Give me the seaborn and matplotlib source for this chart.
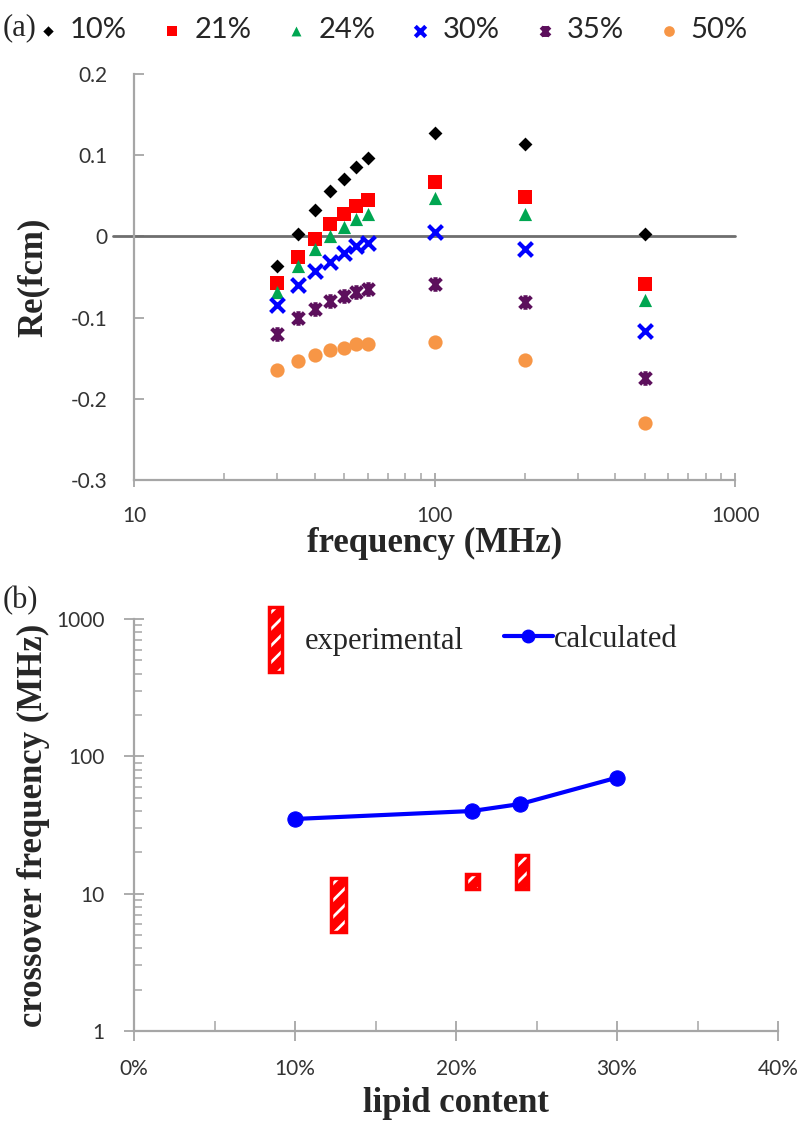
import numpy as np
import matplotlib
matplotlib.use("Agg")
import matplotlib.pyplot as plt
import seaborn as sns
from matplotlib.path import Path
from matplotlib.patches import Patch
from matplotlib.lines import Line2D
from matplotlib.legend_handler import HandlerTuple
from matplotlib.ticker import FuncFormatter, PercentFormatter, MultipleLocator, LogLocator

# ---- panel (a): Re(fcm) vs frequency ----
freq = [30, 35, 40, 45, 50, 55, 60, 100, 200, 500]
re_10 = [-0.037, 0.003, 0.033, 0.056, 0.071, 0.085, 0.096, 0.127, 0.114, 0.003]
re_21 = [-0.058, -0.026, -0.003, 0.015, 0.028, 0.037, 0.045, 0.067, 0.048, -0.059]
re_24 = [-0.068, -0.037, -0.015, 0.001, 0.012, 0.022, 0.028, 0.047, 0.027, -0.078]
re_30 = [-0.084, -0.060, -0.043, -0.031, -0.021, -0.012, -0.008, 0.006, -0.016, -0.117]
re_35 = [-0.120, -0.101, -0.089, -0.079, -0.073, -0.069, -0.065, -0.059, -0.081, -0.174]
re_50 = [-0.164, -0.153, -0.146, -0.140, -0.137, -0.133, -0.132, -0.130, -0.152, -0.230]
series_labels = ["10%", "21%", "24%", "30%", "35%", "50%"]

# ---- panel (b): crossover frequency vs lipid content ----
lipid_calc = [0.10, 0.21, 0.24, 0.30]
fc_calc = [35, 40, 45, 70]
lipid_exp = [0.127, 0.21, 0.241]
exp_low = [5.3, 10.8, 10.8]
exp_high = [13.0, 14.0, 19.0]

sns.set_theme(style="white")
plt.rcParams["font.family"] = ["Lato", "DejaVu Sans"]
plt.rcParams["axes.unicode_minus"] = False
plt.rcParams["hatch.linewidth"] = 2.0

gray = "#a6a6a6"
tick_txt = "#333333"
serif = "Liberation Serif"

# excel-like star: an x with a vertical stroke
star = Path([(-1, -1), (1, 1), (-1, 1), (1, -1), (0, -1.25), (0, 1.25)],
            [Path.MOVETO, Path.LINETO, Path.MOVETO, Path.LINETO, Path.MOVETO, Path.LINETO])

styles = [
    ("D", "black", 50, 0),
    ("s", "#ff0000", 100, 0),
    ("^", "#00a651", 90, 0),
    ("x", "#0000ff", 100, 3),
    (star, "#5c0f5c", 110, 3),
    ("o", "#f79646", 105, 0),
]
values = [re_10, re_21, re_24, re_30, re_35, re_50]

fig = plt.figure(figsize=(8, 11.28), dpi=100)
ax1 = fig.add_axes([0.1675, 0.5745, 0.7513, 0.3599])
ax2 = fig.add_axes([0.1675, 0.0860, 0.805, 0.3652])

for vals, lab, (mk, col, size, lw) in zip(values, series_labels, styles):
    sns.scatterplot(x=freq, y=vals, marker=mk, color=col, s=size, linewidth=lw,
                    edgecolor=col, label=lab, legend=False, ax=ax1, zorder=3)

ax1.set_xscale("log")
ax1.set_xlim(10, 1000)
ax1.set_ylim(-0.3, 0.2)
ax1.set_yticks(np.arange(-0.3, 0.21, 0.1))
ax1.yaxis.set_major_formatter(FuncFormatter(lambda v, _: "0" if abs(v) < 1e-9 else f"{v:.1f}"))
ax1.xaxis.set_major_formatter(FuncFormatter(lambda v, _: f"{v:g}"))
ax1.xaxis.set_minor_locator(LogLocator(base=10, subs=np.arange(2, 10)))
ax1.xaxis.set_minor_formatter(FuncFormatter(lambda v, _: ""))
ax1.axhline(0, xmin=-0.035, xmax=1.0, color="#6e6e6e", lw=2, clip_on=False, zorder=1)

ax1.set_ylabel("Re(fcm)", fontfamily=serif, fontweight="bold", fontsize=25)
ax1.yaxis.set_label_coords(-0.14, 0.5)
ax1.set_xlabel("frequency (MHz)", fontfamily=serif, fontweight="bold", fontsize=25)
ax1.xaxis.set_label_coords(0.5, -0.115)

# legend for (a)
h, l = ax1.get_legend_handles_labels()
fig.legend(h, l, loc="center left", bbox_to_anchor=(0.042, 0.973), ncol=6, frameon=False,
           fontsize=21, handletextpad=0.25, columnspacing=1.05, markerscale=0.75,
           handlelength=1.0, borderaxespad=0, borderpad=0)
fig.text(0.003, 0.975, "(a)", fontfamily=serif, fontsize=22, va="center")

# ---- panel (b) ----
widths = [0.009, 0.008, 0.007]
heights = [hi - lo for hi, lo in zip(exp_high, exp_low)]
ax2.bar(lipid_exp, heights, bottom=exp_low, width=widths, color="#ff0000",
        edgecolor="white", hatch="//", linewidth=0, zorder=2)
ax2.bar(lipid_exp, heights, bottom=exp_low, width=widths, fill=False,
        edgecolor="#ff0000", linewidth=2.5, zorder=3)
sns.lineplot(x=lipid_calc, y=fc_calc, color="#0000ff", lw=3, marker="o", markersize=11,
             markeredgecolor="#0000ff", legend=False, ax=ax2, zorder=4)

ax2.set_yscale("log")
ax2.set_ylim(1, 1000)
ax2.set_xlim(0, 0.4)
ax2.xaxis.set_major_locator(MultipleLocator(0.1))
ax2.xaxis.set_minor_locator(MultipleLocator(0.05))
ax2.xaxis.set_major_formatter(PercentFormatter(xmax=1, decimals=0))
ax2.yaxis.set_major_formatter(FuncFormatter(lambda v, _: f"{v:g}"))
ax2.yaxis.set_minor_locator(LogLocator(base=10, subs=np.arange(2, 10)))
ax2.yaxis.set_minor_formatter(FuncFormatter(lambda v, _: ""))

ax2.set_ylabel("crossover frequency (MHz)", fontfamily=serif, fontweight="bold", fontsize=25)
ax2.yaxis.set_label_coords(-0.13, 0.5)
ax2.set_xlabel("lipid content", fontfamily=serif, fontweight="bold", fontsize=25)
ax2.xaxis.set_label_coords(0.5, -0.135)

exp_handle = (Patch(facecolor="#ff0000", edgecolor="white", hatch="//", linewidth=0),
              Patch(fill=False, edgecolor="#ff0000", linewidth=2.5))
leg1 = ax2.legend([exp_handle], ["experimental"], handler_map={tuple: HandlerTuple(ndivide=1)},
                  loc="center left", bbox_to_anchor=(0.19, 0.95), frameon=False,
                  prop={"family": serif, "size": 22}, handlelength=0.45, handleheight=2.9,
                  handletextpad=0.75, borderaxespad=0)
ax2.add_artist(leg1)
calc_handle = Line2D([], [], color="#0000ff", lw=3, marker="o", markersize=9)
ax2.legend([calc_handle], ["calculated"], loc="center left", bbox_to_anchor=(0.555, 0.95),
           frameon=False, prop={"family": serif, "size": 22}, handlelength=1.6,
           handletextpad=0.05, borderaxespad=0)
fig.text(0.003, 0.468, "(b)", fontfamily=serif, fontsize=22, va="center")

for ax in (ax1, ax2):
    sns.despine(ax=ax)
    for side in ("left", "bottom"):
        ax.spines[side].set_color(gray)
        ax.spines[side].set_linewidth(1.6)
    ax.grid(False)

ax1.tick_params(axis="y", which="major", direction="in", length=7, width=1.3, color=gray,
                pad=19, labelsize=15, labelcolor=tick_txt, left=True)
ax1.tick_params(axis="x", which="major", direction="inout", length=10, width=1.3, color=gray,
                pad=14, labelsize=15, labelcolor=tick_txt, bottom=True)
ax1.tick_params(axis="x", which="minor", direction="in", length=5, width=1.1, color=gray, bottom=True)
ax2.tick_params(axis="y", which="major", direction="inout", length=14, width=1.3, color=gray,
                pad=14, labelsize=15, labelcolor=tick_txt, left=True)
ax2.tick_params(axis="y", which="minor", direction="in", length=6, width=1.1, color=gray, left=True)
ax2.tick_params(axis="x", which="major", direction="inout", length=14, width=1.3, color=gray,
                pad=13, labelsize=15, labelcolor=tick_txt, bottom=True)
ax2.tick_params(axis="x", which="minor", direction="in", length=7, width=1.1, color=gray, bottom=True)

fig.savefig("out.png", dpi=100)
